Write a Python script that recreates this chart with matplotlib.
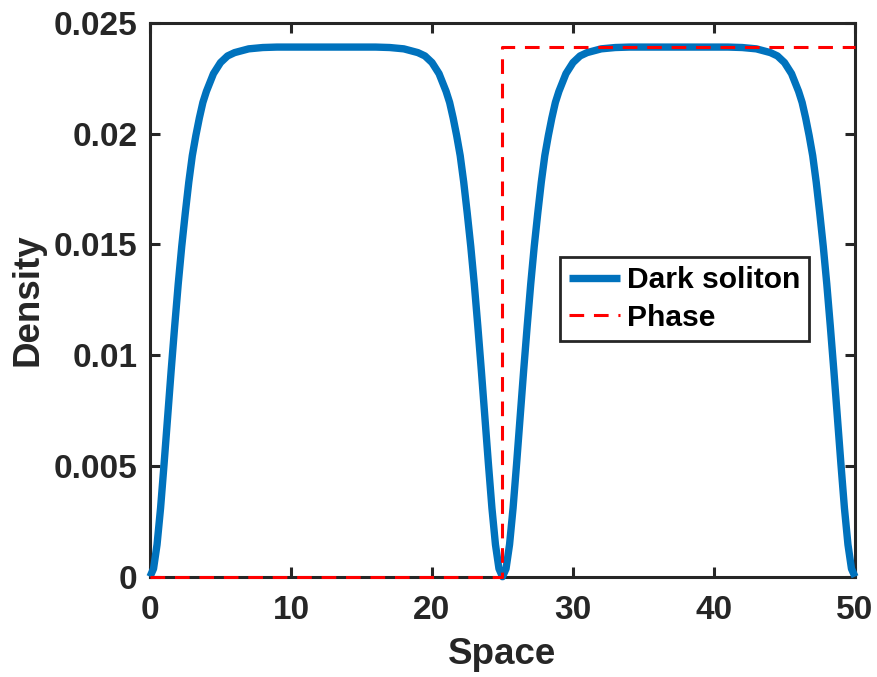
import matplotlib
matplotlib.use("Agg")
import matplotlib.pyplot as plt

# density of the first lobe, wall at 0 to the soliton notch at 25
space_a = [0, 0.25, 0.5, 0.75, 1, 1.25, 1.5, 1.75, 2, 2.25, 2.5, 2.75, 3, 3.25,
           3.5, 3.75, 4, 4.5, 5, 5.5, 6, 7, 8, 9, 10, 11, 12.5, 14, 15, 16, 17,
           18, 19, 19.5, 20, 20.5, 21, 21.25, 21.5, 21.75, 22, 22.25, 22.5,
           22.75, 23, 23.25, 23.5, 23.75, 24, 24.25, 24.5, 24.75, 25]
density_a = [0, 0.00036, 0.00145, 0.0031, 0.0051, 0.0072, 0.0093, 0.0113,
             0.0132, 0.0149, 0.0164, 0.0178, 0.0190, 0.0199, 0.0207, 0.0214,
             0.0219, 0.0227, 0.0232, 0.0235, 0.02365, 0.02382, 0.02388, 0.0239,
             0.0239, 0.0239, 0.0239, 0.0239, 0.0239, 0.0239, 0.02388, 0.02382,
             0.02365, 0.0235, 0.0232, 0.0227, 0.0219, 0.0214, 0.0207, 0.0199,
             0.0190, 0.0178, 0.0164, 0.0149, 0.0132, 0.0113, 0.0093, 0.0072,
             0.0051, 0.0031, 0.00145, 0.00036, 0]

# second lobe, notch at 25 to the wall at 50
space_b = [25.25, 25.5, 25.75, 26, 26.25, 26.5, 26.75, 27, 27.25, 27.5, 27.75,
           28, 28.25, 28.5, 28.75, 29, 29.5, 30, 30.5, 31, 32, 33, 34, 35, 36,
           37.5, 39, 40, 41, 42, 43, 44, 44.5, 45, 45.5, 46, 46.25, 46.5, 46.75,
           47, 47.25, 47.5, 47.75, 48, 48.25, 48.5, 48.75, 49, 49.25, 49.5,
           49.75, 50]
density_b = [0.00036, 0.00145, 0.0031, 0.0051, 0.0072, 0.0093, 0.0113, 0.0132,
             0.0149, 0.0164, 0.0178, 0.0190, 0.0199, 0.0207, 0.0214, 0.0219,
             0.0227, 0.0232, 0.0235, 0.02365, 0.02382, 0.02388, 0.0239, 0.0239,
             0.0239, 0.0239, 0.0239, 0.0239, 0.0239, 0.02388, 0.02382, 0.02365,
             0.0235, 0.0232, 0.0227, 0.0219, 0.0214, 0.0207, 0.0199, 0.0190,
             0.0178, 0.0164, 0.0149, 0.0132, 0.0113, 0.0093, 0.0072, 0.0051,
             0.0031, 0.00145, 0.00036, 0]

# scaled phase: 0 left of the notch, pi (scaled) right of it
phase_x = [0, 25, 25, 50]
phase_y = [0, 0, 0.0239, 0.0239]

x_ticks = [0, 10, 20, 30, 40, 50]
y_ticks = [0, 0.005, 0.01, 0.015, 0.02, 0.025]
y_ticklabels = ["0", "0.005", "0.01", "0.015", "0.02", "0.025"]

ink = "#262626"
plt.rcParams["font.family"] = ["Liberation Sans", "DejaVu Sans"]
plt.rcParams["font.weight"] = "bold"

fig = plt.figure(figsize=(8.78, 6.77), dpi=100)
ax = fig.add_axes([150 / 878, 1 - 576.7 / 677, 705 / 878, 554 / 677])

ax.plot(space_a + space_b, density_a + density_b, color="#0072BD", lw=5.3,
        label="Dark soliton", clip_on=False, zorder=3, solid_capstyle="butt")
ax.plot(phase_x, phase_y, color="#FF0000", lw=2.2, ls=(0, (4.8, 3.2)),
        label="Phase", clip_on=False, zorder=4)

ax.set_xlim(0, 50)
ax.set_ylim(0, 0.025)
ax.set_xticks(x_ticks)
ax.set_yticks(y_ticks)
ax.set_yticklabels(y_ticklabels)
ax.tick_params(direction="in", length=7, width=2.2, color=ink, labelcolor=ink,
               labelsize=24, top=True, right=True)
ax.tick_params(axis="x", pad=13)
ax.tick_params(axis="y", pad=9)
for s in ax.spines.values():
    s.set_linewidth(2.2)
    s.set_color(ink)
    s.set_zorder(2)

ax.set_xlabel("Space", fontsize=26.5, fontweight="bold", color=ink, labelpad=8)
ax.set_ylabel("Density", fontsize=26.5, fontweight="bold", color=ink, labelpad=6)

leg = ax.legend(loc="upper left", bbox_to_anchor=(0.581, 0.577), borderaxespad=0,
                fontsize=21.6, fancybox=False, framealpha=1, edgecolor=ink,
                handlelength=1.7, handletextpad=0.25, labelspacing=0.32,
                borderpad=0.3)
leg.get_frame().set_linewidth(2.0)
for t in leg.get_texts():
    t.set_fontweight("bold")

fig.savefig("out.png", dpi=100)
